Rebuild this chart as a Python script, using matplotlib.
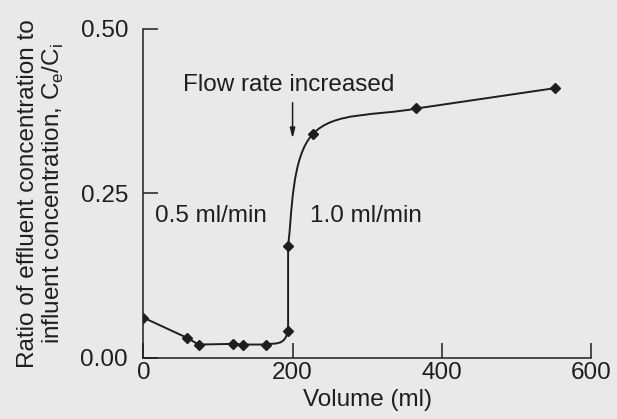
import matplotlib.pyplot as plt
from matplotlib.path import Path
from matplotlib.patches import PathPatch

volume = [0, 59, 74, 120, 134, 165, 194, 194, 227, 366, 552]
ratio = [0.061, 0.030, 0.020, 0.021, 0.020, 0.020, 0.041, 0.170, 0.340, 0.379, 0.410]

x_ticks = [0, 200, 400, 600]
y_ticks = [0.00, 0.25, 0.50]
y_tick_labels = ["0.00", "0.25", "0.50"]

plt.rcParams["font.family"] = ["Liberation Sans", "DejaVu Sans"]
ink = "#1e1e1e"
bg = "#e9e9e9"
fs = 17.5

fig = plt.figure(figsize=(6.17, 4.19), dpi=100, facecolor=bg)
ax = fig.add_axes([0.2323, 0.1463, 0.7257, 0.7847])
ax.set_facecolor(bg)

# smooth curve through the points (Catmull-Rom as cubic Bezier segments)
tension = [0.0, 0.0, 0.0, 0.0, 0.0, 0.5, 0.0, 0.5, 0.5, 0.0]
pts = list(zip(volume, ratio))
verts = [pts[0]]
codes = [Path.MOVETO]
n = len(pts)
for i in range(n - 1):
    p0 = pts[i - 1] if i > 0 else pts[i]
    p1 = pts[i]
    p2 = pts[i + 1]
    p3 = pts[i + 2] if i + 2 < n else pts[i + 1]
    t = tension[i]
    c1 = (p1[0] + t * (p2[0] - p0[0]) / 3, p1[1] + t * (p2[1] - p0[1]) / 3)
    c2 = (p2[0] - t * (p3[0] - p1[0]) / 3, p2[1] - t * (p3[1] - p1[1]) / 3)
    verts += [c1, c2, p2]
    codes += [Path.CURVE4] * 3
ax.add_patch(PathPatch(Path(verts, codes), facecolor="none", edgecolor=ink, lw=1.4))
ax.plot(volume, ratio, linestyle="none", marker="D", markersize=5.5, color=ink)

ax.set_xlim(0, 600)
ax.set_ylim(0, 0.5)
ax.set_xticks(x_ticks)
ax.set_yticks(y_ticks)
ax.set_yticklabels(y_tick_labels)
for s in ["top", "right"]:
    ax.spines[s].set_visible(False)
for s in ["left", "bottom"]:
    ax.spines[s].set_color(ink)
    ax.spines[s].set_linewidth(1.1)
ax.tick_params(axis="both", direction="in", length=11, width=1.1, color=ink,
               labelsize=fs, labelcolor=ink)
ax.tick_params(axis="y", pad=11)
ax.tick_params(axis="x", pad=3)

ax.set_xlabel("Volume (ml)", fontsize=fs, color=ink, labelpad=4)
ax.set_ylabel("Ratio of effluent concentration to\ninfluent concentration, C$_\\mathregular{e}$/C$_\\mathregular{i}$",
              fontsize=fs, color=ink, linespacing=1.1)
ax.yaxis.set_label_coords(-0.172, 0.5)

ax.text(53, 0.415, "Flow rate increased", fontsize=fs, color=ink, ha="left", va="center")
ax.annotate("", xy=(200, 0.329), xytext=(200, 0.392),
            arrowprops=dict(arrowstyle="-|>,head_length=0.6,head_width=0.15", color=ink, lw=1.1))
ax.text(15.6, 0.2154, "0.5 ml/min", fontsize=fs, color=ink, ha="left", va="center")
ax.text(224, 0.2154, "1.0 ml/min", fontsize=fs, color=ink, ha="left", va="center")

fig.savefig("out.png", dpi=100, facecolor=bg)
